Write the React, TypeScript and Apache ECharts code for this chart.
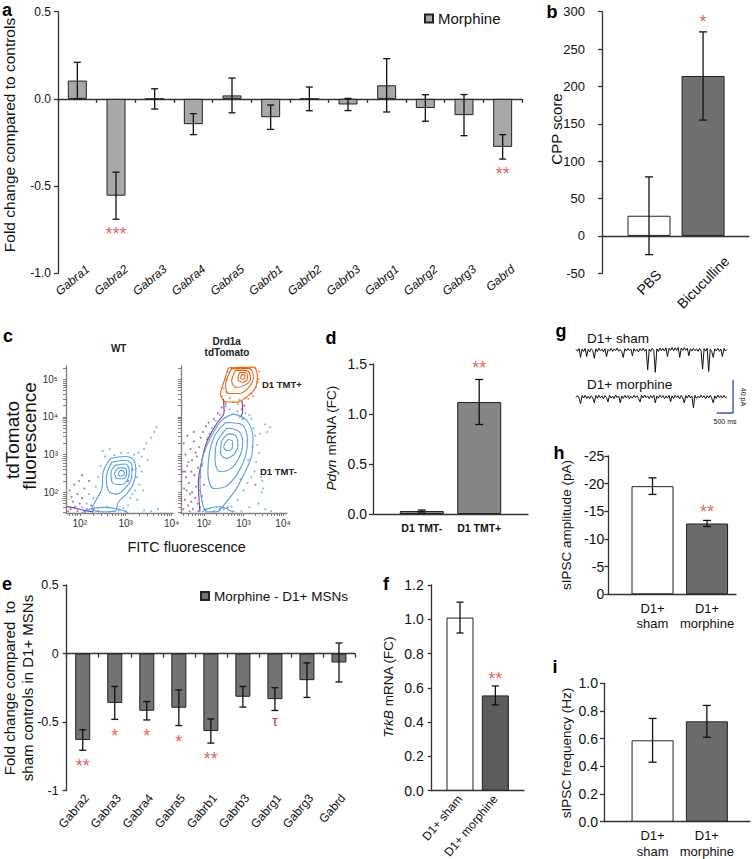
import React, { useEffect, useRef } from 'react';
import * as echarts from 'echarts';

const FONT = '"Liberation Sans", Arial, Helvetica, sans-serif';
const AXIS_COLOR = '#333';
const STAR_COLOR = '#e06868';
const TAU_COLOR = '#d03a3a';

// ---------------- panel a ----------------
const genesA = ['Gabra1', 'Gabra2', 'Gabra3', 'Gabra4', 'Gabra5', 'Gabrb1', 'Gabrb2', 'Gabrb3', 'Gabrg1', 'Gabrg2', 'Gabrg3', 'Gabrd'];
const meanA = [0.105, -0.555, 0, -0.145, 0.02, -0.105, 0, -0.032, 0.078, -0.052, -0.093, -0.275];
const errA = [0.105, 0.135, 0.058, 0.06, 0.1, 0.07, 0.068, 0.035, 0.153, 0.076, 0.118, 0.07];
const sigA = ['', '***', '', '', '', '', '', '', '', '', '', '**'];

// ---------------- panel b ----------------
const groupsB = ['PBS', 'Bicuculline'];
const meanB = [27, 214];
const errB = [52, 59];
const sigB = ['', '*'];

// ---------------- panel c (log10 units) ----------------
const wtBlueContours = [
  [[2.66, 2.89], [2.98, 2.95], [3.18, 2.85], [3.22, 2.54], [3.15, 2.18], [3.02, 1.96], [2.84, 1.74], [2.77, 1.5], [2.51, 1.48], [2.26, 1.56], [2.33, 1.74], [2.48, 2.09], [2.51, 2.54], [2.66, 2.89]],
  [[2.7, 2.8], [3.0, 2.85], [3.14, 2.7], [3.12, 2.35], [2.98, 2.1], [2.8, 1.95], [2.62, 2.05], [2.58, 2.4], [2.7, 2.8]],
  [[2.78, 2.72], [3.0, 2.75], [3.08, 2.55], [3.02, 2.3], [2.86, 2.2], [2.7, 2.28], [2.68, 2.52], [2.78, 2.72]],
  [[2.84, 2.65], [2.98, 2.64], [3.02, 2.5], [2.95, 2.36], [2.82, 2.36], [2.76, 2.5], [2.84, 2.65]],
  [[2.88, 2.58], [2.96, 2.56], [2.97, 2.47], [2.88, 2.43], [2.84, 2.5], [2.88, 2.58]],
  [[2.05, 1.46], [2.3, 1.58], [2.55, 1.6], [2.85, 1.55], [3.05, 1.46]],
];
const wtPurpleContours = [
  [[1.72, 1.62], [1.9, 1.58], [2.1, 1.52], [2.3, 1.48]],
];
const wtBlueDots = [
  [3.3, 2.7], [3.35, 2.95], [3.28, 3.05], [3.4, 3.15], [3.45, 3.3], [3.55, 3.45], [3.62, 3.6], [3.67, 3.73], [3.25, 2.4], [3.3, 2.2],
  [3.2, 2.05], [3.1, 1.85], [3.35, 2.55], [3.18, 3.0], [3.05, 3.05], [2.9, 3.05], [2.75, 2.98], [2.55, 2.95], [2.45, 2.7], [2.4, 2.4],
  [2.35, 2.15], [2.2, 1.95], [2.15, 1.7], [2.05, 1.6], [2.6, 1.62], [2.95, 1.58], [3.05, 1.65], [3.25, 1.8], [3.4, 1.52], [3.55, 1.5],
  [3.7, 1.55], [2.5, 3.1], [3.0, 1.5], [2.85, 1.52], [3.22, 2.62], [2.3, 1.85], [3.15, 1.95], [3.38, 2.05], [3.48, 2.85], [2.65, 3.15],
];
const wtPurpleDots = [
  [1.8, 1.55], [1.85, 1.75], [1.9, 1.62], [1.95, 1.95], [2.0, 1.7], [2.05, 1.85], [1.78, 2.05], [1.88, 2.2], [2.1, 2.1], [2.15, 1.55],
  [1.95, 1.5], [2.2, 2.3], [1.75, 1.5], [2.05, 2.45], [1.82, 1.88], [2.25, 1.65], [2.12, 1.48], [1.98, 2.3], [2.3, 1.55], [2.4, 1.5],
  [3.05, 2.3], [3.15, 2.6],
];
const tdBlueContours = [
  [[2.74, 4.08], [3.08, 3.91], [3.24, 3.42], [3.21, 2.98], [3.04, 2.54], [2.79, 2.05], [2.53, 1.7], [2.32, 1.48], [2.07, 1.48], [1.94, 1.83], [1.9, 2.36], [1.98, 2.98], [2.2, 3.51], [2.45, 3.91], [2.74, 4.08]],
  [[2.55, 3.85], [2.95, 3.8], [3.1, 3.4], [3.05, 2.95], [2.85, 2.5], [2.55, 2.15], [2.25, 2.1], [2.1, 2.5], [2.15, 3.1], [2.3, 3.55], [2.55, 3.85]],
  [[2.58, 3.7], [2.88, 3.62], [2.98, 3.3], [2.88, 2.9], [2.65, 2.6], [2.4, 2.55], [2.28, 2.85], [2.32, 3.3], [2.58, 3.7]],
  [[2.6, 3.55], [2.8, 3.5], [2.86, 3.25], [2.75, 3.0], [2.55, 2.9], [2.42, 3.05], [2.45, 3.35], [2.6, 3.55]],
  [[2.6, 3.4], [2.72, 3.35], [2.72, 3.18], [2.6, 3.1], [2.5, 3.2], [2.6, 3.4]],
  [[1.95, 1.48], [2.15, 1.58], [2.4, 1.62], [2.6, 1.55], [2.75, 1.47]],
];
const tdOrangeContours = [
  [[2.62, 5.3], [3.25, 5.32], [3.35, 5.06], [3.29, 4.75], [3.08, 4.53], [2.83, 4.39], [2.53, 4.41], [2.42, 4.61], [2.49, 4.88], [2.62, 5.3]],
  [[2.7, 5.28], [3.15, 5.28], [3.25, 5.05], [3.15, 4.8], [2.9, 4.62], [2.62, 4.62], [2.55, 4.85], [2.7, 5.28]],
  [[2.8, 5.24], [3.1, 5.22], [3.18, 5.02], [3.05, 4.85], [2.82, 4.78], [2.7, 4.95], [2.8, 5.24]],
  [[2.9, 5.18], [3.08, 5.16], [3.1, 5.02], [2.98, 4.92], [2.86, 5.0], [2.9, 5.18]],
  [[2.95, 5.12], [3.04, 5.1], [3.03, 5.02], [2.96, 5.0], [2.93, 5.06], [2.95, 5.12]],
];
const tdPurpleContours = [
  [[2.49, 4.48], [2.51, 4.13], [2.32, 3.82], [2.07, 3.33], [1.94, 2.8], [1.86, 2.27], [1.88, 1.74], [1.9, 1.48]],
  [[2.96, 4.44], [2.98, 4.13], [2.92, 4.0]],
];
const tdBlueDots = [
  [3.25, 3.7], [3.3, 3.5], [3.35, 3.25], [3.4, 3.05], [3.32, 2.8], [3.28, 2.55], [3.45, 2.4], [3.5, 2.1], [3.46, 2.0], [3.6, 3.6],
  [3.67, 3.73], [3.55, 3.8], [3.2, 3.95], [3.15, 4.05], [3.05, 4.1], [2.85, 4.15], [2.65, 4.2], [2.4, 4.05], [2.3, 3.9], [2.2, 3.7],
  [2.1, 3.45], [2.02, 3.1], [1.95, 2.7], [1.92, 2.4], [1.9, 2.05], [1.95, 1.75], [2.05, 1.55], [2.25, 1.5], [2.5, 1.55], [2.7, 1.62],
  [2.85, 1.8], [3.0, 2.05], [3.1, 2.25], [3.2, 2.4], [2.75, 1.5], [3.15, 1.6], [3.38, 1.7], [3.55, 1.55], [3.7, 1.5], [2.95, 1.5],
  [3.12, 2.85], [3.22, 3.2], [3.42, 3.55], [2.55, 4.28], [2.9, 4.0], [3.5, 2.6], [3.48, 2.3], [2.92, 2.35],
];
const tdPurpleDots = [
  [1.48, 1.55], [1.52, 1.8], [1.5, 2.1], [1.55, 2.4], [1.58, 2.7], [1.53, 3.0], [1.6, 1.65], [1.65, 1.95], [1.62, 2.25], [1.68, 2.55],
  [1.7, 2.85], [1.66, 3.15], [1.75, 3.35], [1.72, 1.55], [1.78, 1.85], [1.8, 2.15], [1.76, 2.45], [1.85, 2.65], [1.82, 2.95], [1.88, 3.2],
  [1.92, 3.45], [1.98, 3.6], [2.05, 3.75], [2.12, 3.85], [1.9, 1.6], [1.95, 1.9], [2.0, 2.2], [1.47, 2.55], [1.49, 3.3], [1.58, 3.5],
  [1.64, 1.5], [1.86, 1.5], [2.02, 1.55], [2.15, 3.55], [2.25, 3.95], [2.35, 4.1], [2.45, 4.25], [2.55, 4.35], [2.95, 4.2], [3.02, 4.3],
  [2.98, 3.95], [1.56, 2.05], [1.7, 2.0], [1.61, 2.8], [1.79, 3.05], [1.84, 1.7], [1.74, 3.6], [1.68, 1.75], [2.08, 3.4], [1.52, 2.55],
  [1.95, 2.75], [2.4, 1.55], [2.6, 1.6], [3.3, 2.2],
];
const tdOrangeDots = [
  [2.45, 4.55], [2.5, 4.75], [2.55, 5.0], [2.6, 5.2], [2.65, 4.5], [2.75, 4.4], [2.9, 4.45], [3.05, 4.5], [3.2, 4.62], [3.32, 4.8],
  [3.38, 5.0], [3.4, 5.2], [3.3, 5.3], [2.58, 4.65], [3.25, 4.55], [2.7, 5.3], [3.36, 4.92], [2.52, 4.4], [3.12, 4.48], [2.85, 4.35],
];

// ---------------- panel d ----------------
const groupsD = ['D1 TMT-', 'D1 TMT+'];
const meanD = [0.03, 1.12];
const errD = [0.01, 0.225];
const sigD = ['', '**'];

// ---------------- panel e ----------------
const genesE = ['Gabra2', 'Gabra3', 'Gabra4', 'Gabra5', 'Gabrb1', 'Gabrb3', 'Gabrg1', 'Gabrg3', 'Gabrd'];
const meanE = [-0.63, -0.36, -0.417, -0.395, -0.565, -0.315, -0.332, -0.194, -0.065];
const errE = [0.075, 0.12, 0.067, 0.13, 0.088, 0.075, 0.083, 0.126, 0.142];
const sigE = ['**', '*', '*', '*', '**', '', '\u03c4', '', ''];

// ---------------- panel f ----------------
const groupsF = ['D1+ sham', 'D1+ morphine'];
const meanF = [1.01, 0.556];
const errF = [0.09, 0.055];
const sigF = ['', '**'];

// ---------------- panel g (pA per sample) ----------------
const SAMPLE_MS = 47;
const shamTrace = [
  0.8, -1.5, 1.9, -9, 1.2, -1.8, 2.0, -8, 0.9, -2.1, 1.6, -0.7, -10, 1.4, -1.9, 2.2, -1.1, 1.0, -2.3, 1.7,
  -8, 0.6, -1.4, 2.1, -1.7, 1.3, -0.9, 2.4, -1.6, 0.7, -2.0, -9, 1.5, -1.2, 2.0, -0.8, 1.1, -7, 1.8, -1.5,
  0.9, -2.2, 1.6, -1.0, 2.3, -1.4, 0.8, -24, 1.2, -1.7, 2.0, -0.6, -27, 1.4, -1.9, 2.5, -1.0, 1.9, -1.3, 2.6,
  -8, 2.2, -0.5, 3.0, -0.9, 2.7, -0.4, 3.1, -9, 2.4, -0.6, 2.9, -0.3, 2.2, -7, 1.6, -1.2, 2.0, -0.8, 1.5,
  -1.6, 1.9, -1.0, -23, 1.7, -1.4, 2.1, -26, 1.0, -1.8, -9, 1.5, -1.1, 2.0, -1.6, 1.2, -8, 1.8, -1.3, 0.9,
];
const morphineTrace = [
  -0.6, 1.7, -1.4, -8, 1.9, -1.2, 2.1, -1.7, 1.0, -2.0, 1.5, -0.9, -7, 1.8, -1.5, 2.2, -1.0, 1.3, -2.1, 1.6,
  -0.8, -6, 2.0, -1.3, 1.1, -1.9, 2.3, -0.7, 1.4, -7, 1.2, -1.6, 2.0, -1.1, 1.7, -2.2, 0.9, -1.4, 2.1, -0.6,
  1.5, -1.8, -6, 1.9, -1.2, 2.4, -0.9, 1.3, -2.0, 1.6, -1.0, 2.0, -7, 1.1, -1.5, 2.2, -0.8, 1.7, -1.9, 1.2,
  -1.3, 2.1, -6, 1.4, -1.7, 2.0, -0.6, 1.5, -2.1, 1.8, -1.1, -7, 1.6, -1.4, 2.3, -0.9, 1.2, -13, 1.9, -1.6,
  1.0, -1.2, 2.2, -0.7, 1.4, -2.0, 1.7, -1.1, 2.0, -1.5, -7, 1.3, -1.8, 2.1, -0.8, 1.6, -1.3, 1.9, -1.0, 0.7,
];
const SCALE_MS = 500;
const SCALE_PA = 40;

// ---------------- panel h ----------------
const groupsH = ['D1+\nsham', 'D1+\nmorphine'];
const meanH = [-19.55, -12.8];
const errH = [1.5, 0.55];
const sigH = ['', '**'];

// ---------------- panel i ----------------
const groupsI = ['D1+\nsham', 'D1+\nmorphine'];
const meanI = [0.588, 0.725];
const errI = [0.158, 0.115];

const SUP: Record<number, string> = { 2: '\u00b2', 3: '\u00b3', 4: '\u2074', 5: '\u2075' };

function buildOption() {
  const grid: any[] = [];
  const xAxis: any[] = [];
  const yAxis: any[] = [];
  const series: any[] = [];
  const graphic: any[] = [];

  const addGrid = (g: any) => {
    grid.push({ ...g, containLabel: false, outerBoundsMode: 'none', show: false });
    return grid.length - 1;
  };
  const addX = (a: any) => { xAxis.push(a); return xAxis.length - 1; };
  const addY = (a: any) => { yAxis.push(a); return yAxis.length - 1; };

  const lineStyle = { color: AXIS_COLOR, width: 1.3 };

  const valueY = (gi: number, o: any) => addY({
    gridIndex: gi, type: 'value', min: o.min, max: o.max, interval: o.interval, inverse: !!o.inverse,
    axisLine: { show: true, lineStyle },
    axisTick: { show: true, length: 4, lineStyle },
    axisLabel: { fontSize: o.fontSize, margin: o.margin, color: '#111', fontFamily: FONT, formatter: o.fmt, showMinLabel: true, showMaxLabel: true },
    splitLine: { show: false },
  });
  const hiddenY = (gi: number, min: number, max: number) => addY({ gridIndex: gi, type: 'value', min, max, show: false, splitLine: { show: false } });

  const errorSeries = (xi: number, yi: number, pts: number[][], capW: number) => ({
    type: 'custom', xAxisIndex: xi, yAxisIndex: yi, data: pts, z: 5, silent: true,
    renderItem: (params: any, api: any) => {
      const x = api.value(0); const y = api.value(1); const e = api.value(2);
      const a = api.coord([x, y + e]); const b = api.coord([x, y - e]);
      const hw = capW / 2;
      const st = { stroke: '#111', lineWidth: 1.3 };
      return {
        type: 'group', children: [
          { type: 'line', shape: { x1: a[0], y1: a[1], x2: b[0], y2: b[1] }, style: st },
          { type: 'line', shape: { x1: a[0] - hw, y1: a[1], x2: a[0] + hw, y2: a[1] }, style: st },
          { type: 'line', shape: { x1: b[0] - hw, y1: b[1], x2: b[0] + hw, y2: b[1] }, style: st },
        ],
      };
    },
  });

  const starSeries = (xi: number, yi: number, xs: number[], ends: number[], sigs: string[], dir: string, gap: number, fs: number) => {
    const pts: number[][] = [];
    const texts: string[] = [];
    sigs.forEach((s, i) => { if (s) { pts.push([xs[i], ends[i]]); texts.push(s); } });
    return {
      type: 'custom', xAxisIndex: xi, yAxisIndex: yi, data: pts, z: 6, silent: true,
      renderItem: (params: any, api: any) => {
        const t = texts[params.dataIndex];
        const p = api.coord([api.value(0), api.value(1)]);
        const center = p[1] + (dir === 'up' ? -gap : gap);
        const isAst = t.indexOf('*') >= 0;
        const size = isAst ? fs : 15;
        const y = center + (isAst ? 0.23 * size : -0.1 * size);
        return {
          type: 'text', x: p[0], y,
          style: { text: t, fill: isAst ? STAR_COLOR : TAU_COLOR, fontSize: size, fontFamily: FONT, align: 'center', verticalAlign: 'middle' },
        };
      },
    };
  };

  const categoryPanel = (o: any) => {
    const gi = addGrid({ left: o.left, top: o.top, width: o.width, height: o.height });
    const yi = valueY(gi, o.y);
    const xi = addX({
      gridIndex: gi, type: 'category', data: o.names, position: 'bottom',
      axisLine: { show: true, onZero: true, lineStyle },
      axisTick: { show: true, interval: 0, length: 4, lineStyle, alignWithLabel: false },
      axisLabel: { show: false }, splitLine: { show: false },
    });
    const gl = addGrid({ left: o.left + o.labelShift, top: o.top, width: o.width, height: o.height });
    hiddenY(gl, o.y.min, o.y.max);
    addX({
      gridIndex: gl, type: 'category', data: o.names, position: 'bottom',
      axisLine: { show: false, onZero: false }, axisTick: { show: false },
      axisLabel: { show: true, interval: 0, rotate: o.rotate, margin: o.labelMargin, fontSize: 12, fontStyle: o.italic ? 'italic' : 'normal', color: '#111', fontFamily: FONT },
      splitLine: { show: false },
    });
    series.push({
      type: 'bar', name: o.name, xAxisIndex: xi, yAxisIndex: yi, barWidth: o.barWidth, data: o.means, silent: true,
      itemStyle: { color: o.color, borderColor: '#222', borderWidth: 1 }, z: 2,
    });
    const xs = o.names.map((_: string, i: number) => i);
    series.push(errorSeries(xi, yi, o.means.map((v: number, i: number) => [i, v, o.errs[i]]), o.capW));
    series.push(starSeries(xi, yi, xs, o.means.map((v: number, i: number) => v - o.errs[i]), o.sigs, 'down', o.starGap, 18));
  };

  const pairPanel = (o: any) => {
    const gi = addGrid({ left: o.left, top: o.top, width: o.width, height: o.height });
    const yi = valueY(gi, o.y);
    const pos = o.names.map((_: string, i: number) => o.x0 + i);
    const labelCfg = {
      show: true, customValues: pos, formatter: (v: number) => o.names[Math.round(v - o.x0)] ?? '',
      fontSize: o.label.fontSize, rotate: o.label.rotate || 0, margin: o.label.margin, color: '#111', fontFamily: FONT,
      fontWeight: o.label.fontWeight || 'normal', lineHeight: o.label.lineHeight,
      ...(o.label.align ? { align: o.label.align, verticalAlign: 'middle' } : {}),
    };
    let xi: number;
    if (o.twoAxes) {
      xi = addX({
        gridIndex: gi, type: 'value', min: 0, max: o.xMax, position: 'bottom',
        axisLine: { show: true, onZero: true, lineStyle }, axisTick: { show: false }, axisLabel: { show: false }, splitLine: { show: false },
      });
      addX({
        gridIndex: gi, type: 'value', min: 0, max: o.xMax, position: 'bottom',
        axisLine: { show: false, onZero: false }, axisTick: { show: false }, axisLabel: labelCfg, splitLine: { show: false },
      });
    } else {
      xi = addX({
        gridIndex: gi, type: 'value', min: 0, max: o.xMax, position: 'bottom',
        axisLine: { show: true, onZero: true, lineStyle }, axisTick: { show: false }, axisLabel: labelCfg, splitLine: { show: false },
      });
    }
    series.push({
      type: 'bar', xAxisIndex: xi, yAxisIndex: yi, barWidth: o.barWidth, silent: true, z: 2,
      data: o.means.map((v: number, i: number) => ({ value: [pos[i], v], itemStyle: { color: o.colors[i] } })),
      itemStyle: { borderColor: '#222', borderWidth: 1 },
    });
    series.push(errorSeries(xi, yi, o.means.map((v: number, i: number) => [pos[i], v, o.errs[i]]), o.capW));
    if (o.sigs) {
      const ends = o.means.map((v: number, i: number) => (o.y.inverse ? v - o.errs[i] : v + o.errs[i]));
      series.push(starSeries(xi, yi, pos, ends, o.sigs, 'up', o.starGap, 18));
    }
  };

  // ---- a ----
  categoryPanel({
    left: 58, top: 11.7, width: 464, height: 261.6, names: genesA, means: meanA, errs: errA, sigs: sigA,
    name: 'Morphine', color: '#a8a8a8', barWidth: 19, capW: 7, starGap: 11,
    labelShift: 10.5, labelMargin: -6, rotate: 40, italic: true,
    y: { min: -1, max: 0.5, interval: 0.5, fontSize: 12, margin: 7, fmt: (v: number) => v.toFixed(1) },
  });

  // ---- b ----
  pairPanel({
    left: 602, top: 11.7, width: 147, height: 261.6, xMax: 2.72, x0: 0.87, twoAxes: true,
    names: groupsB, means: meanB, errs: errB, sigs: sigB, colors: ['#ffffff', '#707070'], barWidth: 43, capW: 8, starGap: 14,
    label: { fontSize: 14, rotate: 45, align: 'center', margin: 9 },
    y: { min: -50, max: 300, interval: 50, fontSize: 13, margin: 17 },
  });

  // ---- d ----
  pairPanel({
    left: 373, top: 364, width: 155, height: 150, xMax: 2.7, x0: 0.85,
    names: groupsD, means: meanD, errs: errD, sigs: sigD, colors: ['#858585', '#858585'], barWidth: 44, capW: 8, starGap: 16,
    label: { fontSize: 10.5, fontWeight: 'bold', margin: 8 },
    y: { min: 0, max: 1.5, interval: 0.5, fontSize: 14, margin: 6, fmt: (v: number) => v.toFixed(1) },
  });

  // ---- e ----
  categoryPanel({
    left: 66.7, top: 585, width: 288.3, height: 205.7, names: genesE, means: meanE, errs: errE, sigs: sigE,
    name: 'Morphine - D1+ MSNs', color: '#737373', barWidth: 15, capW: 7, starGap: 12,
    labelShift: 4, labelMargin: 5, rotate: 50, italic: false,
    y: { min: -1, max: 0.5, interval: 0.5, fontSize: 12.5, margin: 8 },
  });

  // ---- f ----
  pairPanel({
    left: 431.7, top: 585, width: 92.3, height: 205.7, xMax: 2.61, x0: 0.8,
    names: groupsF, means: meanF, errs: errF, sigs: sigF, colors: ['#ffffff', '#5c5c5c'], barWidth: 27, capW: 7, starGap: 11.5,
    label: { fontSize: 12, rotate: 50, margin: 6 },
    y: { min: 0, max: 1.2, interval: 0.2, fontSize: 14, margin: 8, fmt: (v: number) => v.toFixed(1) },
  });

  // ---- h ----
  pairPanel({
    left: 608.3, top: 456, width: 127.7, height: 138.3, xMax: 2.34, x0: 0.81,
    names: groupsH, means: meanH, errs: errH, sigs: sigH, colors: ['#ffffff', '#6b6b6b'], barWidth: 42, capW: 8, starGap: 13,
    label: { fontSize: 13, margin: 6, lineHeight: 15.6 },
    y: { min: -25, max: 0, interval: 5, inverse: true, fontSize: 14, margin: 4 },
  });

  // ---- i ----
  pairPanel({
    left: 604, top: 683.3, width: 146, height: 138.4, xMax: 2.69, x0: 0.895,
    names: groupsI, means: meanI, errs: errI, sigs: null, colors: ['#ffffff', '#6b6b6b'], barWidth: 42, capW: 8, starGap: 12,
    label: { fontSize: 13, margin: 6, lineHeight: 15.6 },
    y: { min: 0, max: 1, interval: 0.2, fontSize: 14, margin: 6, fmt: (v: number) => v.toFixed(1) },
  });

  // ---- c: flow plots ----
  const logTicks = (min: number, max: number) => {
    const out: number[] = [];
    for (let n = 1; n <= 5; n++) for (let k = 1; k <= 9; k++) {
      const v = n + Math.log10(k);
      if (v >= min && v <= max) out.push(v);
    }
    return out;
  };
  const flowAxisLine = { show: true, onZero: false, lineStyle: { color: '#808080', width: 1.3 } };
  const flowPlot = (o: any) => {
    const gi = addGrid({ left: o.left, top: 366, width: o.width, height: 147 });
    const xi = addX({
      gridIndex: gi, type: 'value', min: o.xMin, max: o.xMax, position: 'bottom',
      axisLine: flowAxisLine,
      axisTick: { show: true, customValues: logTicks(o.xMin, o.xMax), length: 3, lineStyle: { color: '#808080' } },
      axisLabel: { show: true, customValues: [2, 3, 4], formatter: (v: number) => '10' + SUP[Math.round(v)], fontSize: 10, margin: 5, color: '#333', fontFamily: FONT },
      splitLine: { show: false },
    });
    const yi = addY({
      gridIndex: gi, type: 'value', min: 1.45, max: 5.35, position: 'left',
      axisLine: flowAxisLine,
      axisTick: { show: true, customValues: logTicks(1.45, 5.35), length: 3, lineStyle: { color: '#808080' } },
      axisLabel: { show: o.yLabels, customValues: [2, 3, 4, 5], formatter: (v: number) => '10' + SUP[Math.round(v)], fontSize: 10, margin: 8, color: '#333', fontFamily: FONT },
      splitLine: { show: false },
    });
    const dots = (data: number[][], color: string) => series.push({
      type: 'scatter', xAxisIndex: xi, yAxisIndex: yi, data, symbolSize: 2.2, silent: true, z: 2,
      itemStyle: { color, opacity: 0.75 },
    });
    const loops = (list: number[][][], color: string) => list.forEach((loop) => series.push({
      type: 'line', xAxisIndex: xi, yAxisIndex: yi, data: loop, smooth: 0.35, symbol: 'none', silent: true, z: 3,
      lineStyle: { color, width: 1.1 },
    }));
    o.purpleDots && dots(o.purpleDots, '#8b4fb0');
    o.blueDots && dots(o.blueDots, '#62a6e6');
    o.orangeDots && dots(o.orangeDots, '#e8782c');
    o.purpleLoops && loops(o.purpleLoops, '#7c3d9e');
    o.blueLoops && loops(o.blueLoops, '#5b9ddf');
    o.orangeLoops && loops(o.orangeLoops, '#e06a1c');
  };
  flowPlot({ left: 66, width: 107, xMin: 1.7, xMax: 4.03, yLabels: true, blueDots: wtBlueDots, purpleDots: wtPurpleDots, blueLoops: wtBlueContours, purpleLoops: wtPurpleContours });
  flowPlot({
    left: 181, width: 106, xMin: 1.42, xMax: 4.1, yLabels: false,
    blueDots: tdBlueDots, purpleDots: tdPurpleDots, orangeDots: tdOrangeDots,
    blueLoops: tdBlueContours, purpleLoops: tdPurpleContours, orangeLoops: tdOrangeContours,
  });

  // ---- g: traces ----
  const PX_PER_PA = 0.825;
  const traceGrid = (baseline: number, yMin: number, yMax: number) => {
    const gi = addGrid({ left: 576, top: baseline - yMax * PX_PER_PA, width: 159, height: (yMax - yMin) * PX_PER_PA });
    const xi = addX({ gridIndex: gi, type: 'value', min: 0, max: 4900, show: false, splitLine: { show: false } });
    const yi = addY({ gridIndex: gi, type: 'value', min: yMin, max: yMax, show: false, splitLine: { show: false } });
    return [xi, yi];
  };
  const [gx1, gy1] = traceGrid(350, -30, 22);
  series.push({
    type: 'line', xAxisIndex: gx1, yAxisIndex: gy1, data: shamTrace.map((v, i) => [i * SAMPLE_MS, v]),
    symbol: 'none', silent: true, lineStyle: { color: '#111', width: 1 },
  });
  const [gx2, gy2] = traceGrid(397, -22, 22);
  series.push({
    type: 'line', xAxisIndex: gx2, yAxisIndex: gy2, data: morphineTrace.map((v, i) => [i * SAMPLE_MS, v]),
    symbol: 'none', silent: true, lineStyle: { color: '#111', width: 1 },
  });
  const barEndMs = 4838;
  const barBottom = -19.4;
  series.push({
    type: 'line', xAxisIndex: gx2, yAxisIndex: gy2, symbol: 'none', silent: true,
    data: [[barEndMs - SCALE_MS, barBottom], [barEndMs, barBottom], [barEndMs, barBottom + SCALE_PA]],
    lineStyle: { color: '#3a4fc1', width: 1.4 },
  });

  // ---- graphic texts ----
  const txt = (text: string, x: number, y: number, o: any = {}) => graphic.push({
    type: 'text', x, y, rotation: o.rotation || 0, silent: true, z: 10,
    style: {
      text, fill: o.fill || '#111', fontSize: o.fontSize || 13, fontFamily: FONT, fontWeight: o.fontWeight || 'normal',
      fontStyle: o.fontStyle || 'normal',
      textAlign: o.align || 'center', textVerticalAlign: 'middle', align: o.align || 'center', verticalAlign: 'middle',
      rich: o.rich, lineHeight: o.lineHeight,
    },
  });
  const L = { fontSize: 18, fontWeight: 'bold', fill: '#000' };
  txt('a', 7, 10, L); txt('b', 552, 11.7, L); txt('c', 8, 336, L); txt('d', 331, 337.5, L);
  txt('e', 7, 584, L); txt('f', 386, 583.5, L); txt('g', 561, 331, L); txt('h', 559, 452.5, L); txt('i', 555, 667, L);

  const R = Math.PI / 2;
  txt('Fold change compared to controls', 9, 135, { rotation: R, fontSize: 15.5 });
  txt('CPP score', 556, 129, { rotation: R, fontSize: 15 });
  txt('tdTomato', 12.5, 440, { rotation: R, fontSize: 19 });
  txt('fluorescence', 29, 436, { rotation: R, fontSize: 19 });
  txt('FITC fluorescence', 186.7, 547, { fontSize: 14.5 });
  const richIt = (fs: number) => ({ it: { fontStyle: 'italic', fontSize: fs, fontFamily: FONT, fill: '#111' }, n: { fontSize: fs, fontFamily: FONT, fill: '#111' } });
  txt('{it|Pdyn}{n| mRNA (FC)}', 331, 438, { rotation: R, fontSize: 13.5, rich: richIt(13.5) });
  txt('Fold change compared  to', 9.5, 688, { rotation: R, fontSize: 15 });
  txt('sham controls in D1+ MSNs', 27.5, 688, { rotation: R, fontSize: 15 });
  txt('{it|TrkB}{n| mRNA (FC)}', 388, 687, { rotation: R, fontSize: 13.5, rich: richIt(13.5) });
  txt('sIPSC amplitude (pA)', 566, 525, { rotation: R, fontSize: 13.5 });
  txt('sIPSC frequency (Hz)', 566, 753, { rotation: R, fontSize: 13.5 });

  const B = { fontWeight: 'bold', fontSize: 10, fill: '#222' };
  txt('WT', 118.7, 348.5, B);
  txt('Drd1a', 226.7, 341.7, B);
  txt('tdTomato', 227, 352.3, B);
  txt('D1 TMT+', 262, 384.3, { ...B, fontSize: 9.5, align: 'left' });
  txt('D1 TMT-', 260, 471.7, { ...B, fontSize: 9.5, align: 'left' });

  txt('D1+ sham', 587, 338, { fontSize: 13.5, align: 'left' });
  txt('D1+ morphine', 587, 384.5, { fontSize: 13.5, align: 'left' });
  txt('40 pA', 743, 397, { fontSize: 7, rotation: -R });
  txt('500 ms', 725, 421, { fontSize: 7 });

  const legendBase = {
    icon: 'rect', itemWidth: 8, itemHeight: 8, itemGap: 5, orient: 'horizontal', selectedMode: false,
    padding: 0,
  };

  return {
    animation: false,
    backgroundColor: '#ffffff',
    textStyle: { fontFamily: FONT },
    grid, xAxis, yAxis, series, graphic,
    legend: [
      { ...legendBase, data: ['Morphine'], left: 424, top: 11, textStyle: { fontSize: 15, color: '#111', fontFamily: FONT } },
      { ...legendBase, data: ['Morphine - D1+ MSNs'], left: 200, top: 589, textStyle: { fontSize: 13.5, color: '#111', fontFamily: FONT } },
    ],
  };
}

export default function App() {
  const ref = useRef<HTMLDivElement>(null);
  useEffect(() => {
    if (!ref.current) return;
    const chart = echarts.init(ref.current, undefined, { renderer: 'svg' });
    chart.setOption(buildOption() as any);
    return () => chart.dispose();
  }, []);
  return <div ref={ref} style={{ position: 'fixed', left: 0, top: 0, width: 753, height: 859, background: '#fff' }} />;
}
